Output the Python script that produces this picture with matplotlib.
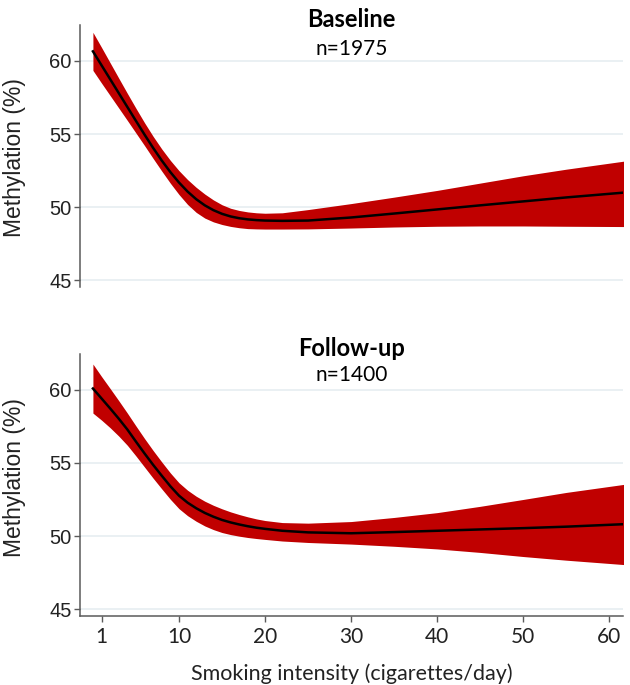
import numpy as np
import matplotlib
matplotlib.use('Agg')
import matplotlib.pyplot as plt

# smoking intensity (cigarettes/day) where the curves were read
x = [0, 1, 2, 3, 4, 5, 6, 7, 8, 9, 10, 11, 12, 13, 14, 15, 16, 17, 18, 19, 20, 22, 25, 30, 35, 40, 45, 50, 55, 61.7]

# baseline, n=1975
base_mid = [60.65, 59.70, 58.75, 57.80, 56.85, 55.90, 54.96, 54.05, 53.19, 52.40, 51.69, 51.07, 50.55, 50.13, 49.80,
            49.55, 49.37, 49.25, 49.17, 49.12, 49.09, 49.07, 49.09, 49.30, 49.57, 49.85, 50.13, 50.40, 50.67, 51.00]
base_hi = [61.95, 60.92, 59.87, 58.82, 57.78, 56.76, 55.77, 54.84, 53.98, 53.20, 52.50, 51.89, 51.36, 50.90, 50.50,
           50.17, 49.93, 49.78, 49.68, 49.62, 49.59, 49.62, 49.84, 50.25, 50.69, 51.15, 51.65, 52.15, 52.60, 53.15]
base_lo = [59.35, 58.48, 57.63, 56.78, 55.93, 55.07, 54.21, 53.33, 52.47, 51.64, 50.87, 50.19, 49.65, 49.26, 49.00,
           48.82, 48.69, 48.60, 48.54, 48.52, 48.51, 48.51, 48.52, 48.58, 48.65, 48.70, 48.72, 48.72, 48.70, 48.68]

# follow-up, n=1400
fu_mid = [60.08, 59.40, 58.72, 58.02, 57.28, 56.45, 55.64, 54.86, 54.12, 53.40, 52.76, 52.28, 51.90, 51.58, 51.32,
          51.10, 50.93, 50.79, 50.67, 50.57, 50.49, 50.36, 50.25, 50.19, 50.27, 50.36, 50.45, 50.54, 50.64, 50.81]
fu_hi = [61.75, 60.90, 60.08, 59.25, 58.40, 57.52, 56.66, 55.84, 55.06, 54.31, 53.64, 53.13, 52.72, 52.38, 52.10,
         51.86, 51.65, 51.47, 51.31, 51.17, 51.06, 50.92, 50.88, 50.99, 51.27, 51.60, 52.03, 52.50, 52.98, 53.53]
fu_lo = [58.40, 57.92, 57.40, 56.83, 56.20, 55.47, 54.71, 53.95, 53.22, 52.51, 51.87, 51.39, 51.01, 50.69, 50.44,
         50.24, 50.10, 49.99, 49.90, 49.83, 49.77, 49.66, 49.56, 49.45, 49.30, 49.12, 48.88, 48.60, 48.35, 48.05]

titles = ['Baseline', 'Follow-up']
n_labels = ['n=1975', 'n=1400']
y_ticks = [45, 50, 55, 60]
x_ticks = [1, 10, 20, 30, 40, 50, 60]

calibri = ['Lato', 'DejaVu Sans']
arial = ['Liberation Sans', 'DejaVu Sans']
red = '#C00000'
grid = '#E6EDF1'
spine = '#5A5A5A'

fig = plt.figure(figsize=(6.3, 6.85), dpi=100)
ax1 = fig.add_axes([0.127, 0.581, 0.862, 0.3825])
ax2 = fig.add_axes([0.127, 0.101, 0.862, 0.3825])

panels = [(ax1, base_mid, base_hi, base_lo), (ax2, fu_mid, fu_hi, fu_lo)]
for i, (ax, mid, hi, lo) in enumerate(panels):
    ax.fill_between(x, lo, hi, color=red, linewidth=0, zorder=2)
    ax.plot(x, mid, color='black', linewidth=1.8, zorder=3)
    ax.set_xlim(-1.5, 61.6)
    ax.set_ylim(44.55, 62.45)
    for yv in y_ticks:
        ax.axhline(yv, color=grid, linewidth=1.2, zorder=1)
    for s in ['top', 'right']:
        ax.spines[s].set_visible(False)
    ax.spines['left'].set_color(spine)
    ax.spines['left'].set_linewidth(1.1)
    ax.set_yticks(y_ticks)
    ax.set_yticklabels([str(v) for v in y_ticks], fontfamily=arial, fontsize=14.5, color='#222222')
    ax.tick_params(axis='y', length=4, width=1.0, color=spine, pad=2)
    ax.text(0.5, 1.022, titles[i], transform=ax.transAxes, ha='center', va='center',
            fontfamily=calibri, fontweight='bold', fontsize=17)
    ax.text(0.5, 0.91 if i == 0 else 0.918, n_labels[i], transform=ax.transAxes, ha='center', va='center',
            fontfamily=calibri, fontsize=15)

# y labels centred on each panel
fig.text(15 / 630, 1 - 158 / 685, 'Methylation (%)', rotation=90, ha='center', va='center',
         fontfamily=arial, fontsize=16.5, color='#222222')
fig.text(15 / 630, 1 - 478 / 685, 'Methylation (%)', rotation=90, ha='center', va='center',
         fontfamily=arial, fontsize=16.5, color='#222222')

ax1.spines['bottom'].set_visible(False)
ax1.set_xticks([])

ax2.spines['bottom'].set_color(spine)
ax2.spines['bottom'].set_linewidth(1.1)
ax2.set_xticks(x_ticks)
ax2.set_xticklabels([str(v) for v in x_ticks], fontfamily=calibri, fontsize=15, color='#222222')
ax2.tick_params(axis='x', length=4, width=1.0, color=spine, pad=4)
ax2.set_xlabel('Smoking intensity (cigarettes/day)', fontfamily=calibri, fontsize=15.5, color='#222222', labelpad=12)

fig.savefig('out.png', dpi=100)
